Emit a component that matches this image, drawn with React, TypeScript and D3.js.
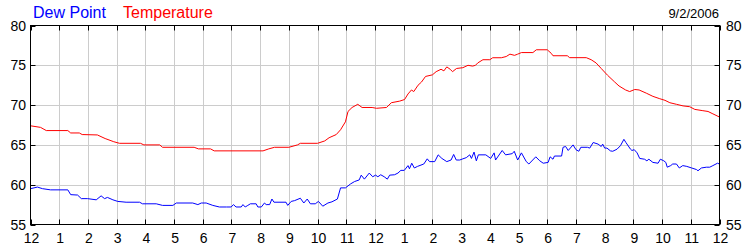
import React from "react";
import * as d3 from "d3";

// hour of day (0 = midnight), temperature °F
const tempHours = [0,0.35,0.55,1.3,1.4,1.7,1.8,2.33,2.6,2.9,3.1,3.83,3.95,4.5,4.6,5.7,5.85,6.27,6.4,8.1,8.3,8.5,9.0,9.3,9.4,10.0,10.25,10.4,10.65,10.8,10.97,11.06,11.2,11.4,11.55,11.9,12.05,12.4,12.57,12.86,13.03,13.15,13.27,13.35,13.5,13.62,13.76,14.0,14.13,14.3,14.4,14.5,14.62,14.7,14.84,15.06,15.24,15.4,15.5,15.58,15.76,16.0,16.1,16.4,16.57,16.7,16.86,16.97,17.1,17.5,17.62,18.0,18.14,18.2,18.7,18.78,19.36,19.53,19.7,19.88,20.1,20.35,20.5,20.73,20.87,21.05,21.2,21.45,21.68,21.92,22.1,22.27,22.5,22.73,22.96,23.14,23.42,23.6,23.77,24];
const tempValues = [67.4,67.2,66.8,66.8,66.5,66.5,66.3,66.25,65.8,65.4,65.2,65.2,65.0,65.0,64.7,64.7,64.5,64.5,64.25,64.25,64.5,64.7,64.7,65.0,65.2,65.2,65.5,65.9,66.3,66.9,67.9,69.2,69.7,70.1,69.7,69.7,69.6,69.7,70.3,70.5,70.7,71.4,71.9,71.7,72.5,72.9,73.6,73.8,74.2,74.5,74.3,74.8,74.5,74.2,74.6,74.7,75.0,74.9,75.0,75.3,75.7,75.7,75.95,75.95,76.1,76.4,76.25,76.4,76.6,76.6,76.95,76.95,76.5,76.2,76.2,75.96,75.96,75.7,75.3,74.6,73.75,72.9,72.4,71.9,71.7,71.96,71.9,71.5,71.1,70.8,70.6,70.3,70.1,69.9,69.8,69.46,69.3,69.2,68.9,68.5];

// hour of day, dew point °F
const dewHours = [0,0.24,0.42,0.7,1.3,1.4,1.64,1.77,1.99,2.29,2.46,2.58,2.68,2.87,3.04,3.33,3.8,3.9,4.38,4.6,4.96,5.08,5.65,5.83,5.95,6.12,6.35,6.58,6.83,6.99,7.07,7.16,7.34,7.4,7.48,7.57,7.66,7.86,7.92,8.04,8.15,8.21,8.33,8.41,8.48,8.9,8.96,9.08,9.2,9.4,9.52,9.64,9.75,9.92,10.03,10.18,10.36,10.5,10.69,10.8,10.97,11.15,11.29,11.45,11.52,11.63,11.8,11.92,12.02,12.1,12.2,12.32,12.43,12.51,12.68,12.8,12.9,13.02,13.15,13.2,13.28,13.37,13.48,13.7,13.82,13.9,14.08,14.2,14.33,14.5,14.65,14.74,14.83,14.95,15.06,15.18,15.3,15.36,15.45,15.53,15.6,15.86,16.03,16.15,16.2,16.43,16.55,16.78,16.85,16.97,17.1,17.27,17.36,17.6,17.74,17.86,18.03,18.1,18.2,18.25,18.5,18.55,18.64,18.73,18.9,19.0,19.1,19.17,19.4,19.48,19.6,19.77,19.88,19.93,20.0,20.08,20.2,20.28,20.43,20.55,20.67,20.74,20.9,20.95,21.03,21.13,21.22,21.39,21.47,21.54,21.68,21.86,21.94,22.06,22.13,22.18,22.3,22.37,22.5,22.6,22.72,22.86,23.03,23.2,23.25,23.37,23.54,23.66,23.77,23.93,24];
const dewValues = [59.5,59.7,59.5,59.35,59.35,58.75,58.7,58.25,58.25,58.1,58.6,58.25,58.4,58.1,57.9,57.8,57.8,57.6,57.6,57.4,57.4,57.7,57.7,57.5,57.7,57.7,57.4,57.2,57.2,57.2,57.5,57.2,57.2,57.5,57.2,57.4,57.6,57.6,57.2,57.2,57.7,57.5,57.5,58.2,57.8,57.8,57.4,57.9,58.0,58.3,57.7,58.2,57.6,57.6,57.9,57.3,57.7,57.85,58.2,59.6,59.6,60.1,60.4,60.6,61.2,60.7,61.46,61.0,61.2,61.0,61.25,61.0,60.7,61.2,61.25,61.46,61.8,61.8,62.4,62.0,62.7,62.1,62.3,62.6,63.25,62.9,62.9,63.75,63.3,62.9,63.1,63.8,63.1,63.1,63.25,63.4,63.75,63.3,64.1,63.0,63.75,63.75,63.3,64.0,63.1,64.3,63.75,63.9,64.2,63.1,64.0,62.9,62.6,63.5,63.0,62.7,62.8,63.5,63.2,63.6,63.6,64.7,64.8,64.3,65.0,64.4,64.2,64.7,64.7,64.6,65.3,65.1,64.8,65.1,64.6,64.6,64.25,64.2,64.46,64.9,65.7,65.3,64.46,64.3,64.4,64.0,63.3,63.2,63.0,63.2,62.8,62.7,63.2,63.0,62.8,62.2,62.4,62.6,62.6,62.1,62.4,62.3,62.1,61.9,61.75,62.1,62.2,62.2,62.4,62.7,62.6];

const xTickLabels = ["12","1","2","3","4","5","6","7","8","9","10","11","12","1","2","3","4","5","6","7","8","9","10","11","12"];
const yTicks = [55, 60, 65, 70, 75, 80];
const dateLabel = "9/2/2006";
const legendLabels = ["Dew Point", "Temperature"];

export default function App() {
  const W = 750, H = 250;
  const x = d3.scaleLinear().domain([0, 24]).range([30.5, 719.5]);
  const y = d3.scaleLinear().domain([55, 80]).range([224.5, 25.5]);
  const line = d3.line<[number, number]>().x(d => x(d[0])).y(d => y(d[1]));
  const tempPts: [number, number][] = tempHours.map((h, i) => [h, tempValues[i]]);
  const dewPts: [number, number][] = dewHours.map((h, i) => [h, dewValues[i]]);
  const font = "Arial, 'Liberation Sans', sans-serif";
  return (
    <svg width={W} height={H} style={{ position: "absolute", left: 0, top: 0, background: "#fff" }} fontFamily={font}>
      <rect x={0} y={0} width={W} height={H} fill="#fff" />
      {/* grid */}
      {xTickLabels.map((_, i) => (
        i > 0 && i < 24 ? <line key={"gx" + i} x1={Math.round(x(i)) + 0.5} x2={Math.round(x(i)) + 0.5} y1={25.5} y2={224.5} stroke="#cccccc" strokeWidth={1} /> : null
      ))}
      {yTicks.map(v => (
        v > 55 && v < 80 ? <line key={"gy" + v} x1={30.5} x2={719.5} y1={Math.round(y(v)) + 0.5} y2={Math.round(y(v)) + 0.5} stroke="#cccccc" strokeWidth={1} /> : null
      ))}
      {/* ticks */}
      {xTickLabels.map((_, i) => {
        const px = Math.round(x(i)) + 0.5;
        return (
          <g key={"tx" + i}>
            <line x1={px} x2={px} y1={25.5} y2={30.5} stroke="#000" />
            <line x1={px} x2={px} y1={219.5} y2={224.5} stroke="#000" />
          </g>
        );
      })}
      {yTicks.map(v => {
        const py = Math.round(y(v)) + 0.5;
        return (
          <g key={"ty" + v}>
            <line x1={30.5} x2={35.5} y1={py} y2={py} stroke="#000" />
            <line x1={714.5} x2={719.5} y1={py} y2={py} stroke="#000" />
          </g>
        );
      })}
      {/* data */}
      <path d={line(dewPts) || ""} fill="none" stroke="#0000ff" strokeWidth={1} />
      <path d={line(tempPts) || ""} fill="none" stroke="#ff0000" strokeWidth={1} />
      {/* frame */}
      <rect x={30.5} y={25.5} width={689} height={199} fill="none" stroke="#000" strokeWidth={1} />
      {/* labels */}
      {yTicks.map(v => (
        <g key={"ly" + v}>
          <text x={26} y={y(v) + 5} textAnchor="end" fontSize={14} fill="#000">{v}</text>
          <text x={726} y={y(v) + 5} textAnchor="start" fontSize={14} fill="#000">{v}</text>
        </g>
      ))}
      {xTickLabels.map((t, i) => (
        <text key={"lx" + i} x={x(i) + 1} y={243} textAnchor="middle" fontSize={14} fill="#000">{t}</text>
      ))}
      <text x={33} y={18} fontSize={16} fill="#0000ff">{legendLabels[0]}</text>
      <text x={123} y={18} fontSize={16} fill="#ff0000">{legendLabels[1]}</text>
      <text x={719} y={18} textAnchor="end" fontSize={13} fill="#000">{dateLabel}</text>
    </svg>
  );
}
